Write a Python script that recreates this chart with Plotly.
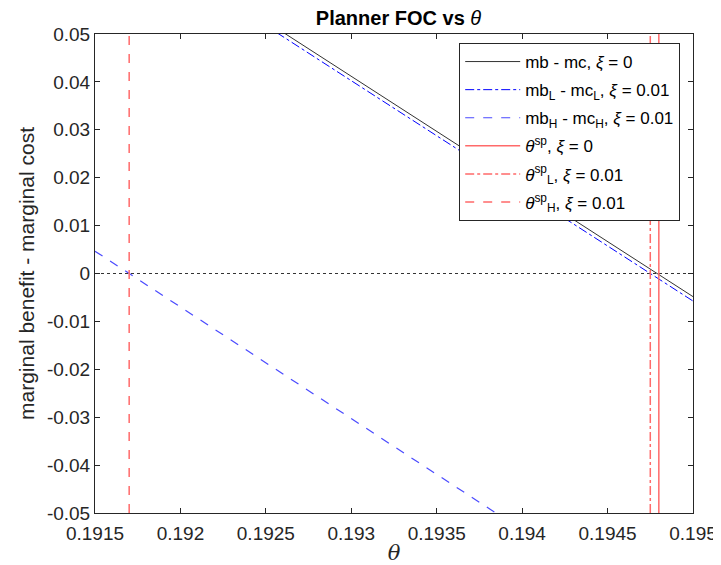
import plotly.graph_objects as go

# ---- data ----
theta = [0.1915, 0.1920, 0.1925, 0.1930, 0.1935, 0.1940, 0.1945, 0.1950]
foc_0 = [0.07567, 0.06417, 0.05267, 0.04117, 0.02967, 0.01817, 0.00667, -0.00483]
foc_L = [0.07475, 0.06325, 0.05175, 0.04025, 0.02875, 0.01725, 0.00575, -0.00575]
foc_H = [0.00466, -0.00699, -0.01864, -0.03029, -0.04194, -0.05359, -0.06524, -0.07689]
theta_sp_0 = 0.19480
theta_sp_L = 0.19475
theta_sp_H = 0.19170
y_span = [-0.05, 0.05]
x_span = [0.1915, 0.1950]
zero = [0, 0]

xticks = [0.1915, 0.1920, 0.1925, 0.1930, 0.1935, 0.1940, 0.1945, 0.1950]
xticklabels = ["0.1915", "0.192", "0.1925", "0.193", "0.1935", "0.194", "0.1945", "0.195"]
yticks = [-0.05, -0.04, -0.03, -0.02, -0.01, 0, 0.01, 0.02, 0.03, 0.04, 0.05]
yticklabels = ["-0.05", "-0.04", "-0.03", "-0.02", "-0.01", "0", "0.01", "0.02", "0.03", "0.04", "0.05"]

FONT = "Liberation Sans, Arial, sans-serif"
AX = "#262626"
RED = "#ff6a6a"
BLUE_H = "#4a4aff"

fig = go.Figure()
fig.add_trace(go.Scatter(x=x_span, y=zero, mode="lines", showlegend=False,
                         line=dict(color="#333333", width=1, dash="dot"), hoverinfo="skip"))
fig.add_trace(go.Scatter(x=theta, y=foc_0, mode="lines", name="mb - mc, <i>ξ</i> = 0",
                         legendgroup="g1", line=dict(color="#333333", width=1)))
fig.add_trace(go.Scatter(x=theta, y=foc_L, mode="lines",
                         name="mb<sub>L</sub> - mc<sub>L</sub>, <i>ξ</i> = 0.01",
                         legendgroup="g2", line=dict(color="#0000ff", width=1, dash="dashdot")))
fig.add_trace(go.Scatter(x=theta, y=foc_H, mode="lines",
                         name="mb<sub>H</sub> - mc<sub>H</sub>, <i>ξ</i> = 0.01",
                         legendgroup="g3", line=dict(color=BLUE_H, width=1.2, dash="dash")))
fig.add_trace(go.Scatter(x=[theta_sp_0, theta_sp_0], y=y_span, mode="lines",
                         name="<i>θ</i><sup>sp</sup>, <i>ξ</i> = 0",
                         legendgroup="g4", line=dict(color=RED, width=1.5)))
fig.add_trace(go.Scatter(x=[theta_sp_L, theta_sp_L], y=y_span, mode="lines",
                         name="<i>θ</i><sup>sp</sup><sub>L</sub>, <i>ξ</i> = 0.01",
                         legendgroup="g5", line=dict(color=RED, width=1.5, dash="dashdot")))
fig.add_trace(go.Scatter(x=[theta_sp_H, theta_sp_H], y=y_span, mode="lines",
                         name="<i>θ</i><sup>sp</sup><sub>H</sub>, <i>ξ</i> = 0.01",
                         legendgroup="g6", line=dict(color=RED, width=1.5, dash="dash")))

axis_common = dict(showgrid=False, zeroline=False, showline=True, linecolor=AX, linewidth=1,
                   mirror="ticks", ticks="inside", ticklen=5, tickcolor=AX,
                   tickfont=dict(family=FONT, size=19, color=AX))

fig.update_layout(
    width=721, height=565,
    margin=dict(l=87, r=27, t=26, b=60),
    paper_bgcolor="white", plot_bgcolor="white",
    font=dict(family=FONT, size=19, color=AX),
    title=dict(text="<b>Planner FOC vs </b><i>θ</i>", x=(87 + 694) / 2 / 721, xanchor="center",
               y=1 - 3 / 565, yanchor="top", font=dict(family=FONT, size=20, color="black")),
    xaxis=dict(range=x_span, tickvals=xticks, ticktext=xticklabels, ticklabelstandoff=3,
               title=dict(text="<i>θ</i>", font=dict(family="DejaVu Serif, serif", size=21, color=AX), standoff=2),
               **axis_common),
    yaxis=dict(range=y_span, tickvals=yticks, ticktext=yticklabels,
               title=dict(text="marginal benefit - marginal cost", font=dict(family=FONT, size=21, color=AX), standoff=6),
               **axis_common),
    legend=dict(x=1 - (694 - 681) / 607, xanchor="right", y=1 - (35 - 26) / 479, yanchor="top",
                bgcolor="white", bordercolor=AX, borderwidth=1,
                font=dict(family=FONT, size=17, color="black"), itemwidth=55,
                tracegroupgap=3),
    showlegend=True,
)

fig.write_html("out.html")
